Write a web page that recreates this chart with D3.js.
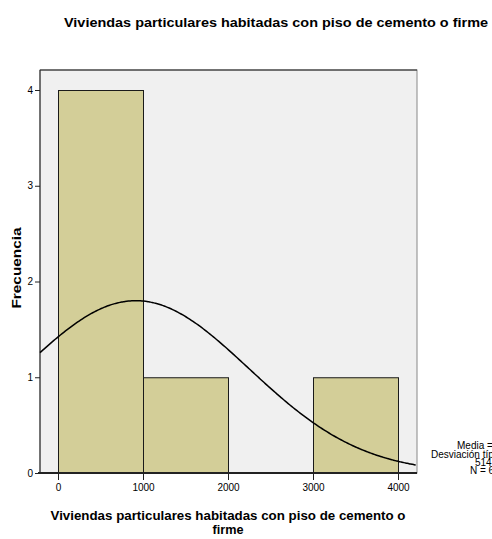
<!DOCTYPE html>
<html><head><meta charset="utf-8">
<script src="https://cdn.jsdelivr.net/npm/d3@7"></script>
<style>
body{margin:0;background:#fff;overflow:hidden}
text{font-family:"Liberation Sans",Arial,sans-serif;fill:#000}
</style></head>
<body>
<svg id="c" width="492" height="539"></svg>
<script>
const binStarts = [0, 1000, 3000];
const binEnds = [1000, 2000, 4000];
const counts = [4, 1, 1];
const xTicks = [0, 1000, 2000, 3000, 4000];
const yTicks = [0, 1, 2, 3, 4];
const curveMean = 915;
const curveStd = 1330;
const curveN = 6;
const binWidth = 1000;
const legendLines = ["Media = 915,17", "Desviación típica =", "514,32", "N = 6"];

const svg = d3.select("#c");
const L = 40, R = 417, T = 70, B = 473;
const x = d3.scaleLinear().domain([-211.8, 4223.5]).range([L, R]);
const y = d3.scaleLinear().domain([0, 4]).range([B, 90]);

svg.append("text").attr("x", 276).attr("y", 27).attr("text-anchor", "middle")
  .attr("font-size", 13.5).attr("font-weight", "bold")
  .attr("textLength", 424).attr("lengthAdjust", "spacingAndGlyphs")
  .text("Viviendas particulares habitadas con piso de cemento o firme");

svg.append("rect").attr("x", L).attr("y", T).attr("width", R - L).attr("height", B - T)
  .attr("fill", "#f0f0f0").attr("stroke", "#888").attr("stroke-width", 1);
svg.append("line").attr("x1", L).attr("x2", L).attr("y1", T).attr("y2", B).attr("stroke", "#222");
svg.append("line").attr("x1", L).attr("x2", R).attr("y1", T).attr("y2", T).attr("stroke", "#222");

svg.selectAll("rect.bar").data(counts).enter().append("rect").attr("class", "bar")
  .attr("x", (d, i) => x(binStarts[i]) + 0.5)
  .attr("y", d => y(d) + 0.5)
  .attr("width", (d, i) => x(binEnds[i]) - x(binStarts[i]))
  .attr("height", d => y(0) - y(d))
  .attr("fill", "#d3ce98").attr("stroke", "#1a1a1a").attr("stroke-width", 1);

const pdf = v => curveN * binWidth / (curveStd * Math.sqrt(2 * Math.PI)) * Math.exp(-((v - curveMean) ** 2) / (2 * curveStd ** 2));
const xs = d3.range(x.domain()[0], x.domain()[1] + 1, 20);
svg.append("path").datum(xs)
  .attr("d", d3.line().x(v => x(v)).y(v => y(pdf(v))).curve(d3.curveBasis))
  .attr("fill", "none").attr("stroke", "#000").attr("stroke-width", 1.5);

// y axis
const ya = svg.append("g").attr("transform", `translate(${L},0)`)
  .call(d3.axisLeft(y).tickValues(yTicks).tickSize(5).tickPadding(2).tickFormat(d3.format("d")));
ya.select(".domain").remove();
ya.selectAll("text").attr("font-size", 10).attr("font-family", '"Liberation Sans",Arial,sans-serif');
ya.selectAll("line").attr("stroke", "#222");

// x axis
const xa = svg.append("g").attr("transform", `translate(0,${B})`)
  .call(d3.axisBottom(x).tickValues(xTicks).tickSize(7).tickPadding(4).tickFormat(d3.format("d")));
xa.select(".domain").remove();
xa.selectAll("text").attr("font-size", 10).attr("font-family", '"Liberation Sans",Arial,sans-serif');
xa.selectAll("line").attr("stroke", "#222");
svg.append("line").attr("x1", L - 2).attr("x2", R).attr("y1", B).attr("y2", B).attr("stroke", "#222").attr("stroke-width", 2);

svg.append("text").attr("x", 228).attr("y", 520).attr("text-anchor", "middle")
  .attr("font-size", 13.5).attr("font-weight", "bold")
  .attr("textLength", 355).attr("lengthAdjust", "spacingAndGlyphs")
  .text("Viviendas particulares habitadas con piso de cemento o");
svg.append("text").attr("x", 228).attr("y", 534).attr("text-anchor", "middle")
  .attr("font-size", 13.5).attr("font-weight", "bold")
  .attr("textLength", 31).attr("lengthAdjust", "spacingAndGlyphs").text("firme");

svg.append("text").attr("transform", "translate(21,268) rotate(-90)").attr("text-anchor", "middle")
  .attr("font-size", 13).attr("font-weight", "bold")
  .attr("textLength", 81).attr("lengthAdjust", "spacingAndGlyphs").text("Frecuencia");

const lx = [457, 431, 475, 470];
const ly = [449, 458, 466, 474];
svg.selectAll("text.leg").data(legendLines).enter().append("text").attr("class", "leg")
  .attr("x", (d, i) => lx[i]).attr("y", (d, i) => ly[i])
  .attr("font-size", 10).text(d => d);
</script>
</body></html>
